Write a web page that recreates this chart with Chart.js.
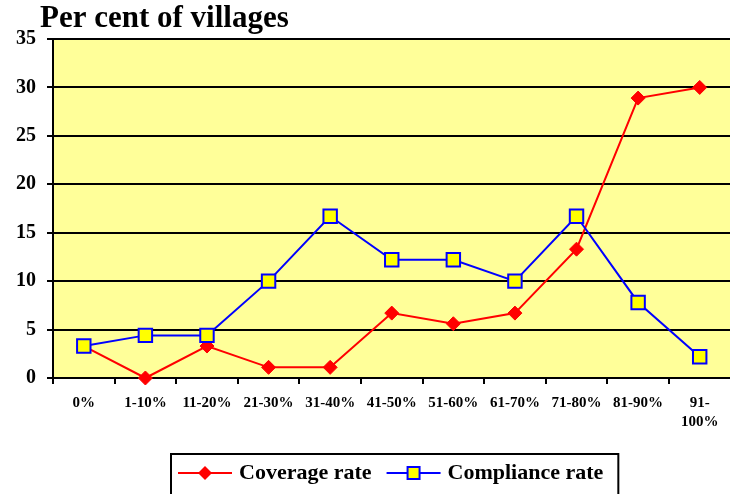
<!DOCTYPE html>
<html>
<head>
<meta charset="utf-8">
<script src="https://cdn.jsdelivr.net/npm/chart.js@4.4.0/dist/chart.umd.min.js"></script>
<style>
html, body { margin: 0; padding: 0; overflow: hidden; background: #fff; }
</style>
</head>
<body>
<canvas id="chart" width="742" height="494"></canvas>
<script>
const categories = ['0%', '1-10%', '11-20%', '21-30%', '31-40%', '41-50%', '51-60%', '61-70%', '71-80%', '81-90%', ['91-', '100%']];
const coverage = [3.3, 0, 3.3, 1.1, 1.1, 6.7, 5.6, 6.7, 13.3, 28.9, 30.0];
const compliance = [3.3, 4.4, 4.4, 10.0, 16.7, 12.2, 12.2, 10.0, 16.7, 7.8, 2.2];
const yTicks = [0, 5, 10, 15, 20, 25, 30, 35];
const titleText = 'Per cent of villages';

const SERIF = '"Liberation Serif", "Times New Roman", serif';

//legend markers: line with the point in the middle
function legendIcon(kind){
    const c = document.createElement('canvas');
    c.width = 56;
    c.height = 20;
    const g = c.getContext('2d');
    g.lineWidth = 2;
    g.strokeStyle = kind == 'diamond' ? '#FF0000' : '#0000FF';
    g.beginPath();
    g.moveTo(1, 10);
    g.lineTo(55, 10);
    g.stroke();
    if(kind == 'diamond'){
        g.fillStyle = '#FF0000';
        g.beginPath();
        g.moveTo(28, 3);
        g.lineTo(35, 10);
        g.lineTo(28, 17);
        g.lineTo(21, 10);
        g.closePath();
        g.fill();
    } else {
        g.fillStyle = '#FFFF00';
        g.fillRect(22, 4, 12, 12);
        g.strokeRect(22, 4, 12, 12);
    }
    return c;
}
const icons = [legendIcon('diamond'), legendIcon('square')];

const framePlugin = {
    id: 'frame',
    beforeDraw(chart){
        const a = chart.chartArea;
        const ctx = chart.ctx;
        ctx.save();
        ctx.fillStyle = '#FFFF99';
        ctx.fillRect(a.left, a.top, a.right - a.left, a.bottom - a.top);
        ctx.fillStyle = '#000';
        ctx.font = 'bold 31px ' + SERIF;
        ctx.textBaseline = 'alphabetic';
        ctx.textAlign = 'left';
        ctx.fillText(titleText, 40, 27);
        ctx.restore();
    },
    afterLayout(chart){
        const lg = chart.legend;
        const pad = lg.options.labels.padding;
        lg.left = 182 - pad;
        lg.right = 740;
    },
    afterDraw(chart){
        const hb = chart.legend.legendHitBoxes;
        if(!hb || hb.length < 2) return;
        const ctx = chart.ctx;
        const l = hb[0].left - 11;
        const r = hb[1].left + hb[1].width + 15;
        ctx.save();
        ctx.strokeStyle = '#000';
        ctx.lineWidth = 2;
        ctx.strokeRect(l, 454, r - l, 60);
        ctx.restore();
    }
};

new Chart(document.getElementById('chart'), {
    type: 'line',
    data: {
        labels: categories,
        datasets: [
            {
                label: 'Coverage rate',
                data: coverage,
                order: 2,
                clip: false,
                borderColor: '#FF0000',
                backgroundColor: '#FF0000',
                borderWidth: 2,
                tension: 0,
                pointStyle: 'rectRot',
                pointRadius: 7,
                pointBorderWidth: 1,
                pointBackgroundColor: '#FF0000',
                pointBorderColor: '#FF0000'
            },
            {
                label: 'Compliance rate',
                data: compliance,
                order: 1,
                clip: false,
                borderColor: '#0000FF',
                backgroundColor: '#FFFF00',
                borderWidth: 2,
                tension: 0,
                pointStyle: 'rect',
                pointRadius: 9.5,
                pointBorderWidth: 2,
                pointBackgroundColor: '#FFFF00',
                pointBorderColor: '#0000FF'
            }
        ]
    },
    options: {
        responsive: false,
        devicePixelRatio: 1,
        animation: false,
        layout: {padding: {top: 39, right: 3, left: 0, bottom: 0}},
        plugins: {
            title: {display: false},
            tooltip: {enabled: false},
            legend: {
                display: true,
                position: 'bottom',
                align: 'start',
                labels: {
                    usePointStyle: true,
                    pointStyleWidth: 46,
                    padding: 19,
                    color: '#000',
                    font: {family: SERIF, size: 22, weight: 'bold'},
                    sort(a, b){ return a.datasetIndex - b.datasetIndex; },
                    generateLabels(chart){
                        const items = Chart.defaults.plugins.legend.labels.generateLabels(chart);
                        items.forEach(function(it){ it.pointStyle = icons[it.datasetIndex]; });
                        return items;
                    }
                }
            }
        },
        scales: {
            x: {
                offset: true,
                afterFit(scale){ scale.height = 65; },
                grid: {
                    offset: true,
                    drawOnChartArea: false,
                    drawTicks: true,
                    tickLength: 6,
                    color: '#000',
                    lineWidth: 2
                },
                border: {color: '#000', width: 2},
                ticks: {
                    autoSkip: false,
                    maxRotation: 0,
                    minRotation: 0,
                    padding: 10,
                    color: '#000',
                    font: {family: SERIF, size: 15, weight: 'bold', lineHeight: 1.27}
                }
            },
            y: {
                min: 0,
                max: 35,
                afterFit(scale){ scale.width = 53; },
                afterBuildTicks(scale){ scale.ticks = yTicks.map(function(v){ return {value: v}; }); },
                grid: {
                    color: '#000',
                    lineWidth: 2,
                    tickLength: 6
                },
                border: {color: '#000', width: 2},
                ticks: {
                    padding: 11,
                    color: '#000',
                    font: {family: SERIF, size: 20, weight: 'bold'}
                }
            }
        }
    },
    plugins: [framePlugin]
});
</script>
</body>
</html>
